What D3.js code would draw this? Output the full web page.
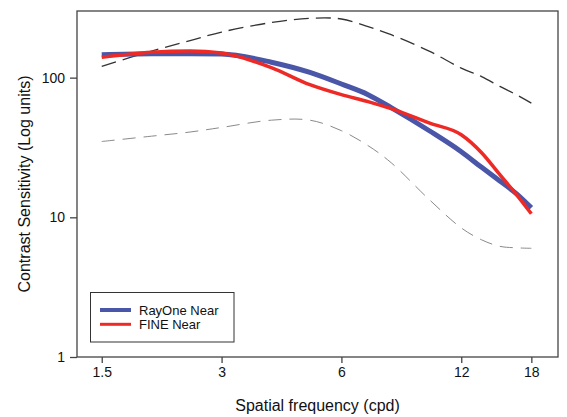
<!DOCTYPE html>
<html>
<head>
<meta charset="utf-8">
<script src="https://cdn.jsdelivr.net/npm/d3@7"></script>
<style>
  body { margin: 0; background: #fff; }
  text { font-family: "Liberation Sans", Arial, sans-serif; fill: #111; }
</style>
</head>
<body>
<div id="chart"></div>
<script>
// spatial frequencies (cpd) where values were read
var freq = [1.5, 2, 2.5, 3, 4, 5, 6, 7, 8, 10, 12, 13.5, 15, 16.5, 18];
var rayOne = [146, 148.5, 148.5, 147.5, 129, 109, 90, 75.5, 61, 41.5, 29.5, 22.8, 18.2, 14.8, 11.7];
var fine = [140, 152, 155, 150, 118, 89, 75.5, 67.3, 60, 47.2, 39, 29, 20.2, 14.6, 10.6];
var normUpper = [120.5, 155, 184, 212, 248, 266, 263, 232, 203, 154, 117, 101.6, 86.6, 75.5, 65.7];
var normLower = [34.9, 38.1, 40.8, 44, 49.6, 49.6, 41.7, 32.6, 24.6, 13.3, 8.4, 6.9, 6.2, 6.05, 6.0];
var xTicks = [1.5, 3, 6, 12, 18];
var yTicks = [1, 10, 100];
var legendNames = ["RayOne Near", "FINE Near"];

var W = 567, H = 417;
var pLeft = 77, pRight = 558, pTop = 11, pBottom = 357;

var svg = d3.select("#chart").append("svg")
            .attr("width", W)
            .attr("height", H);

var x = d3.scaleLog().domain([1.3, 21]).range([pLeft, pRight]);
var y = d3.scaleLog().domain([1, 300]).range([pBottom, pTop]);

function pts(vals) {
  return freq.map(function (f, i) { return [f, vals[i]]; });
}

var line = d3.line()
             .x(function (d) { return x(d[0]); })
             .y(function (d) { return y(d[1]); })
             .curve(d3.curveMonotoneX);
var smooth = d3.line()
             .x(function (d) { return x(d[0]); })
             .y(function (d) { return y(d[1]); })
             .curve(d3.curveCatmullRom.alpha(0.5));

// frame
svg.append("rect")
   .attr("x", pLeft)
   .attr("y", pTop)
   .attr("width", pRight - pLeft)
   .attr("height", pBottom - pTop)
   .style("fill", "none")
   .style("stroke", "#444")
   .style("stroke-width", 1.3);

// axes
var xAxis = svg.append("g")
   .attr("transform", "translate(0," + pBottom + ")")
   .call(d3.axisBottom(x).tickValues(xTicks).tickFormat(d3.format("")).tickSize(6).tickPadding(4));
var yAxis = svg.append("g")
   .attr("transform", "translate(" + pLeft + ",0)")
   .call(d3.axisLeft(y).tickValues(yTicks).tickFormat(d3.format("d")).tickSize(7).tickPadding(5));

[xAxis, yAxis].forEach(function (g) {
  g.select(".domain").remove();
  g.selectAll(".tick line").style("stroke", "#444").style("stroke-width", 1.3);
  g.selectAll(".tick text").style("font-size", "14px").style("fill", "#111")
   .style("font-family", "Liberation Sans, Arial, sans-serif");
});

// normal range dashed lines
svg.append("path")
   .datum(pts(normLower))
   .attr("d", smooth)
   .style("fill", "none")
   .style("stroke", "#8a8a8a")
   .style("stroke-width", 1)
   .style("stroke-dasharray", "13,8");

svg.append("path")
   .datum(pts(normUpper))
   .attr("d", smooth)
   .style("fill", "none")
   .style("stroke", "#333")
   .style("stroke-width", 1.3)
   .style("stroke-dasharray", "15,7");

// main curves
svg.append("path")
   .datum(pts(rayOne))
   .attr("d", line)
   .style("fill", "none")
   .style("stroke", "#4a56a8")
   .style("stroke-width", 5);

svg.append("path")
   .datum(pts(fine))
   .attr("d", line)
   .style("fill", "none")
   .style("stroke", "#ee2a26")
   .style("stroke-width", 3.5);

// axis titles
svg.append("text")
   .attr("x", (pLeft + pRight) / 2)
   .attr("y", 411)
   .attr("text-anchor", "middle")
   .style("font-size", "16px")
   .text("Spatial frequency (cpd)");

svg.append("text")
   .attr("transform", "translate(30," + ((pTop + pBottom) / 2) + ") rotate(-90)")
   .attr("text-anchor", "middle")
   .style("font-size", "16px")
   .text("Contrast Sensitivity (Log units)");

// legend
var lg = svg.append("g");
lg.append("rect")
  .attr("x", 90.5)
  .attr("y", 292.5)
  .attr("width", 143.5)
  .attr("height", 49.5)
  .style("fill", "#fff")
  .style("stroke", "#333")
  .style("stroke-width", 1);

var legColors = ["#4a56a8", "#ee2a26"];
var legWidths = [4, 3];
legendNames.forEach(function (name, i) {
  var ly = 310 + i * 14.3;
  lg.append("line")
    .attr("x1", 100).attr("x2", 131)
    .attr("y1", ly).attr("y2", ly)
    .style("stroke", legColors[i])
    .style("stroke-width", legWidths[i]);
  lg.append("text")
    .attr("x", 139)
    .attr("y", ly + 4.5)
    .style("font-size", "13px")
    .text(name);
});
</script>
</body>
</html>
